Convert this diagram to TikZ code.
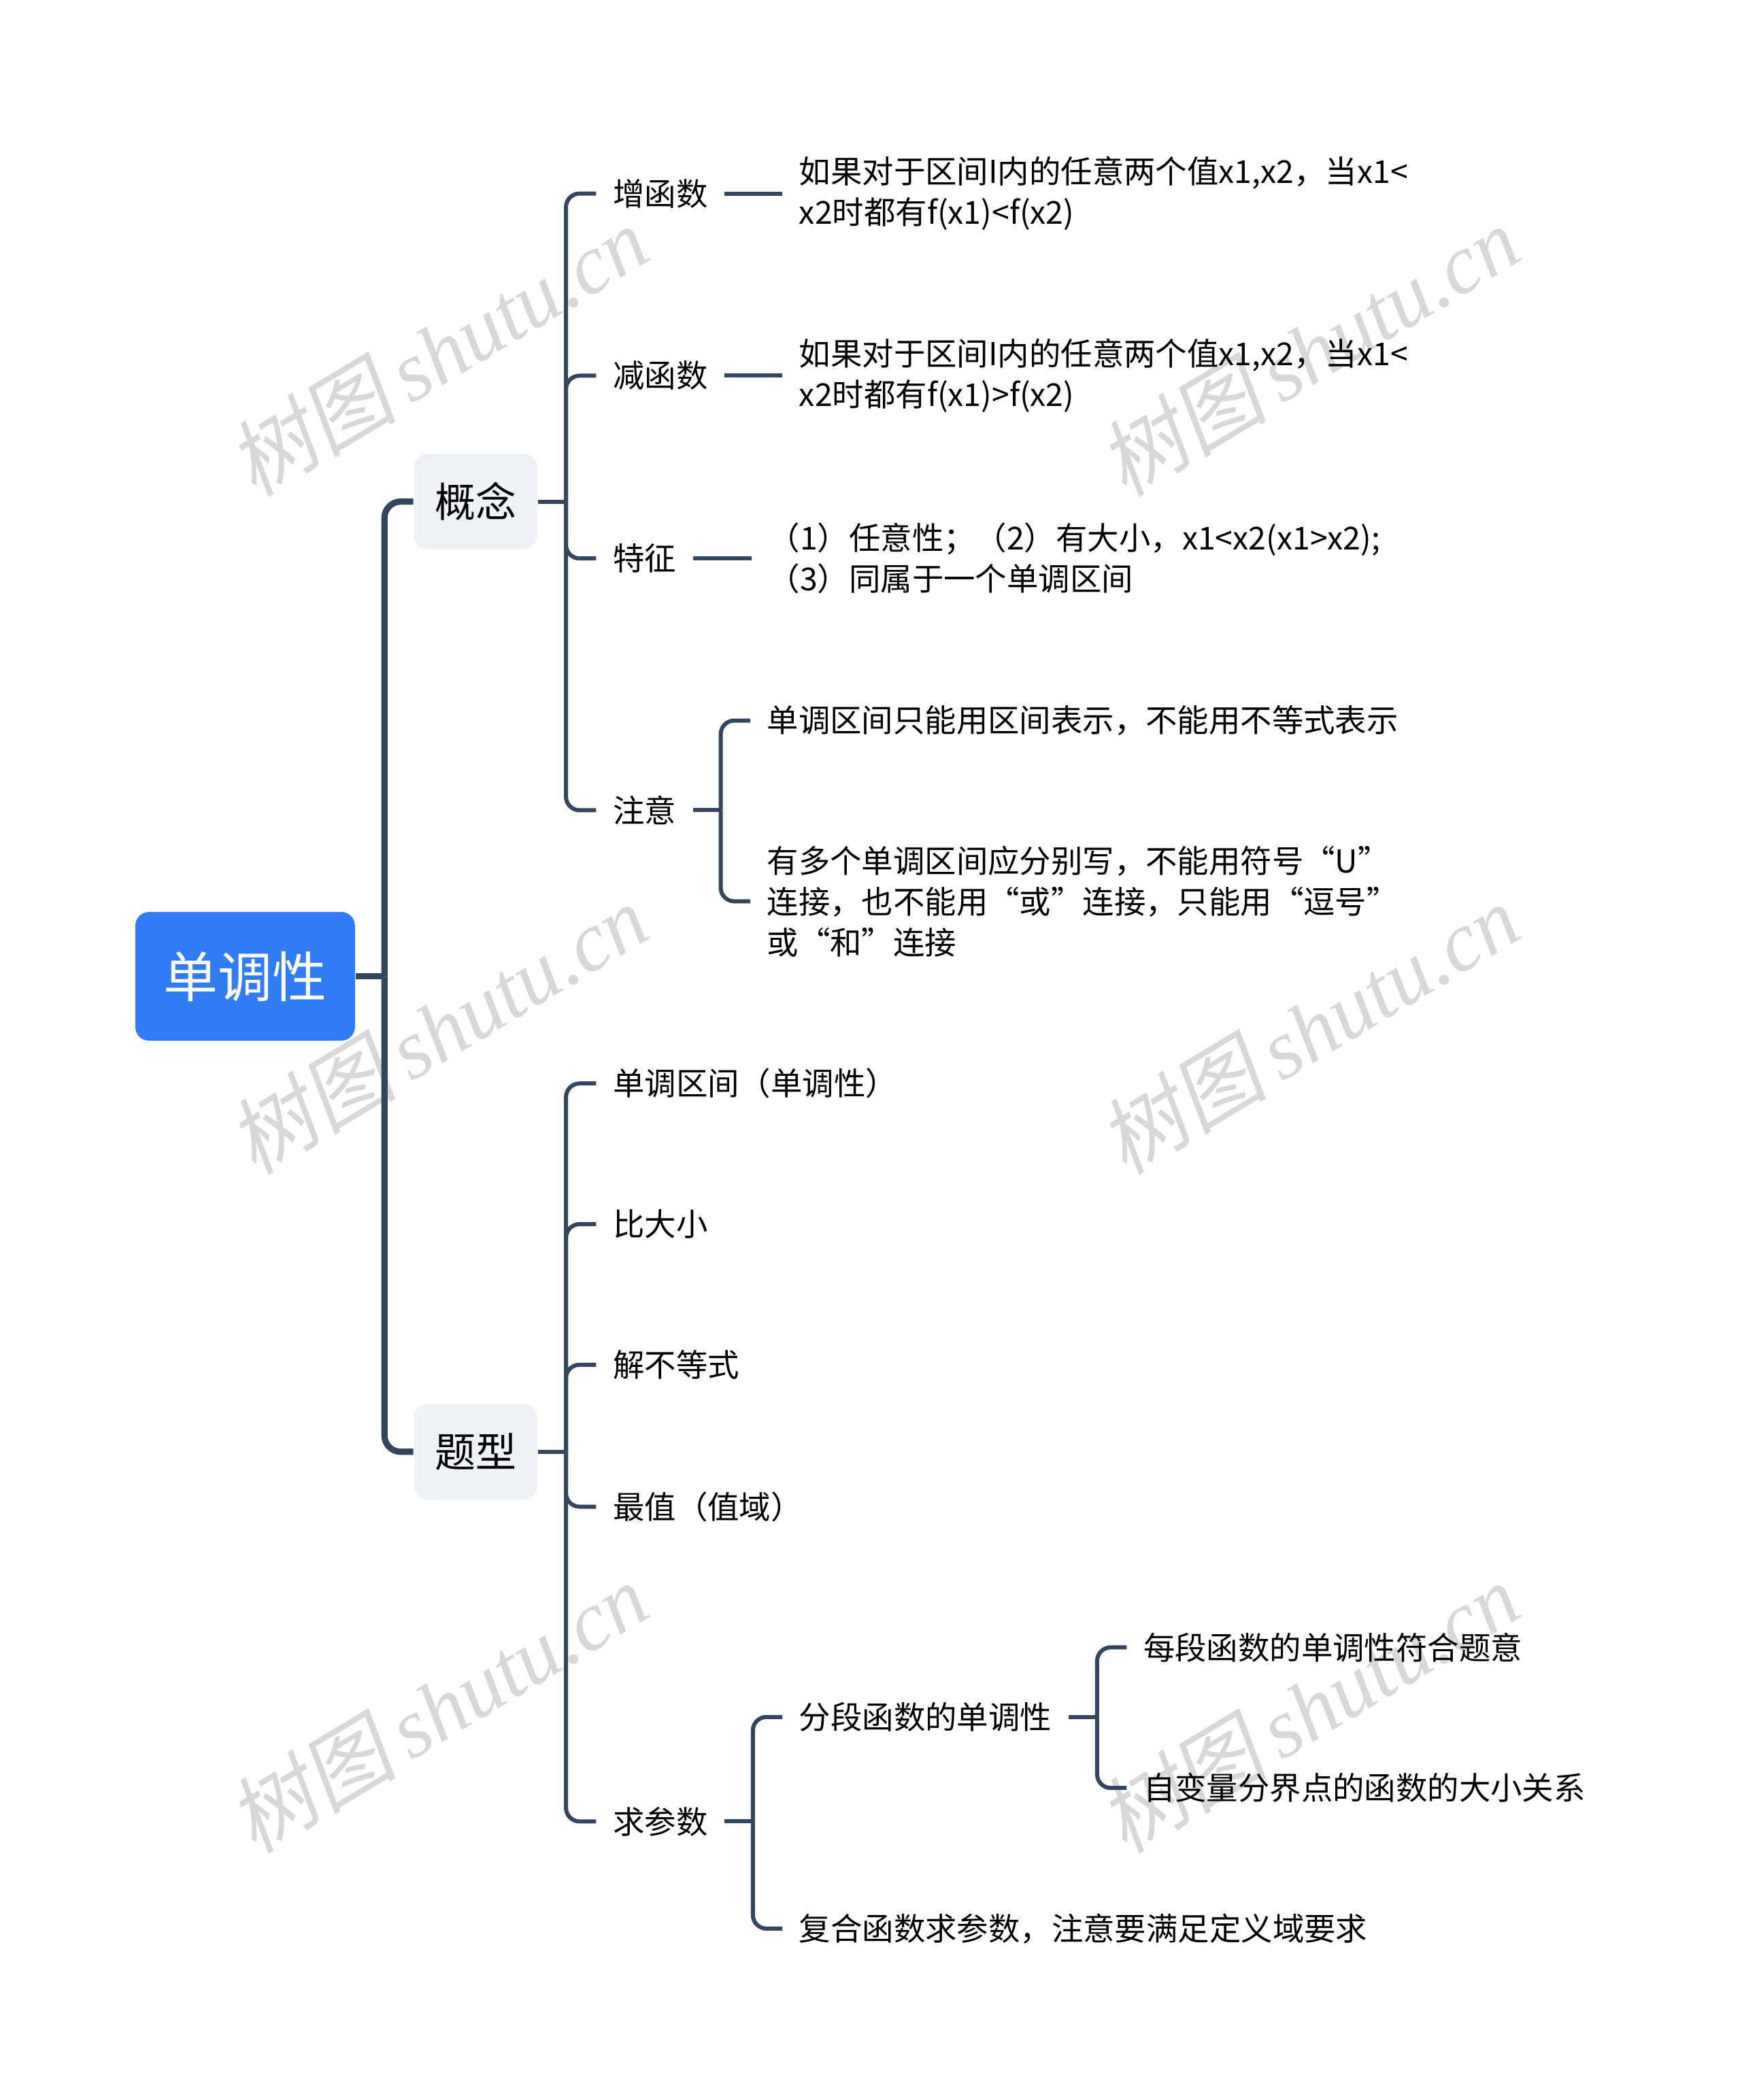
\documentclass[tikz,border=0pt]{standalone}
\usepackage{fontspec}
\setmainfont{Noto Sans CJK SC}
\newfontfamily\wmlat{Liberation Serif}
\newfontfamily\wmcjk{Noto Sans CJK SC}[FakeSlant=0.18]
\usetikzlibrary{calc}
\definecolor{lnc}{HTML}{34455E}
\definecolor{rootc}{HTML}{2F7CF6}
\definecolor{boxc}{HTML}{EEF1F5}
\definecolor{wmc}{HTML}{D8D8D8}
\begin{document}
\begin{tikzpicture}[x=0.4923pt,y=-0.4923pt,
  txt/.style={anchor=west, inner xsep=6pt, inner ysep=2pt, align=left,
    font=\fontsize{11.6pt}{15pt}\selectfont, text=black},
  rootbox/.style={fill=rootc, rounded corners=5pt, minimum width=80.7pt,
    minimum height=47.3pt, text=white, font=\fontsize{20pt}{24pt}\selectfont, inner sep=0pt},
  topicbox/.style={fill=boxc, rounded corners=5pt, minimum width=45.3pt,
    minimum height=35pt, text=black, font=\fontsize{15pt}{18pt}\selectfont, inner sep=0pt},
  l1/.style={draw=lnc, line width=2.3pt, rounded corners=6pt},
  l2/.style={draw=lnc, line width=1.5pt, rounded corners=5pt},
  wm/.style={text=wmc, rotate=31, inner sep=0pt}]
\useasboundingbox (0,0) rectangle (1300,1568);

% watermarks
\foreach \wx/\wy [count=\i] in {327/262, 977/262, 327/768, 977/768, 327/1275, 977/1275}
  \node[wm] (wm\i) at (\wx,\wy) {\fontsize{31pt}{34pt}\selectfont\wmcjk 树图\,\wmlat\itshape shutu.cn};

% nodes
\node[rootbox] (root) at (183,729) {单调性};
\node[topicbox] (gn) at (355,374.5) {概念};
\node[topicbox] (tx) at (355,1084) {题型};

\node[txt] (zeng) at (445,144.5) {增函数};
\node[txt] (jian) at (445,280.5) {减函数};
\node[txt] (tz) at (445,417) {特征};
\node[txt] (zy) at (445,605) {注意};

\node[txt] (zengd) at (584,144.5) {如果对于区间I内的任意两个值x1,x2，当x1<\\x2时都有f(x1)<f(x2)};
\node[txt] (jiand) at (584,280.5) {如果对于区间I内的任意两个值x1,x2，当x1<\\x2时都有f(x1)>f(x2)};
\node[txt] (tzd) at (561,417) {（1）任意性；（2）有大小，x1<x2(x1>x2);\\（3）同属于一个单调区间};
\node[txt] (zy1) at (560,538) {单调区间只能用区间表示，不能用不等式表示};
\node[txt] (zy2) at (560,673) {有多个单调区间应分别写，不能用符号“U”\\连接，也不能用“或”连接，只能用“逗号”\\或“和”连接};

\node[txt] (t1) at (445,809) {单调区间（单调性）};
\node[txt] (t2) at (445,914) {比大小};
\node[txt] (t3) at (445,1019) {解不等式};
\node[txt] (t4) at (445,1125) {最值（值域）};
\node[txt] (t5) at (445,1360) {求参数};
\node[txt] (p1) at (584,1282) {分段函数的单调性};
\node[txt] (p2) at (584,1440) {复合函数求参数，注意要满足定义域要求};
\node[txt] (q1) at (841,1230) {每段函数的单调性符合题意};
\node[txt] (q2) at (841,1335) {自变量分界点的函数的大小关系};

% spine coordinates
\coordinate (s0) at (287,729);
\coordinate (s1) at (422.5,374.5);
\coordinate (s2) at (422.5,1084);
\coordinate (s3) at (538,605);
\coordinate (s4) at (562,1360);
\coordinate (s5) at (819,1282);

% connectors
\draw[l1] (root.east) -- (s0);
\draw[l1] (s0) |- (gn.west);
\draw[l1] (s0) |- (tx.west);

\draw[l2] (gn.east) -- (s1);
\foreach \c in {zeng,jian,tz,zy} \draw[l2] (s1) |- (\c.west);
\draw[l2] (zeng.east) -- (zengd.west);
\draw[l2] (jian.east) -- (jiand.west);
\draw[l2] (tz.east) -- (tzd.west);
\draw[l2] (zy.east) -- (s3);
\draw[l2] (s3) |- (zy1.west);
\draw[l2] (s3) |- (zy2.west);

\draw[l2] (tx.east) -- (s2);
\foreach \c in {t1,t2,t3,t4,t5} \draw[l2] (s2) |- (\c.west);
\draw[l2] (t5.east) -- (s4);
\draw[l2] (s4) |- (p1.west);
\draw[l2] (s4) |- (p2.west);
\draw[l2] (p1.east) -- (s5);
\draw[l2] (s5) |- (q1.west);
\draw[l2] (s5) |- (q2.west);
\end{tikzpicture}
\end{document}
